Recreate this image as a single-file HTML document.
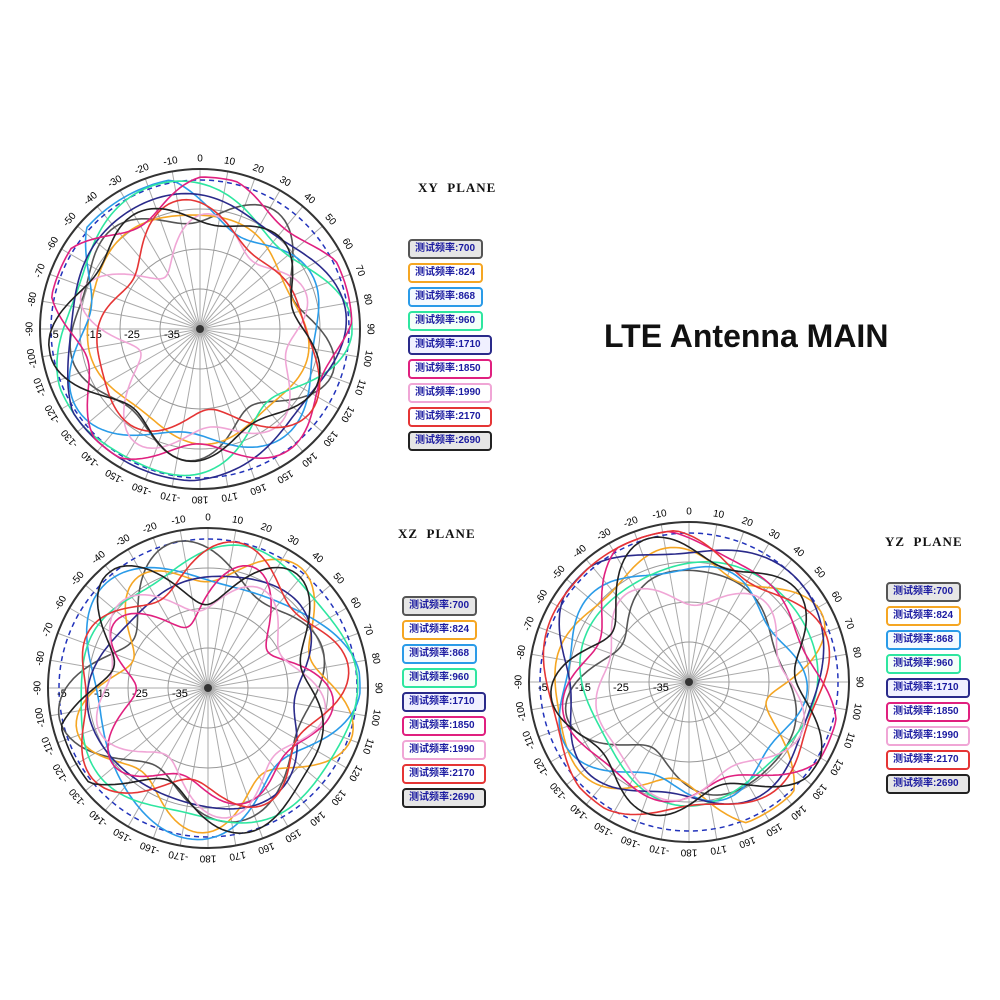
<!DOCTYPE html>
<html><head><meta charset="utf-8">
<style>
html,body{margin:0;padding:0;background:#fff;}
body{width:1000px;height:1000px;position:relative;overflow:hidden;font-family:"Liberation Sans","Noto Sans CJK SC",sans-serif;}
.title{position:absolute;left:604px;top:318px;font-size:32px;font-weight:bold;color:#111;}
.plane{position:absolute;font-family:"Liberation Serif",serif;font-weight:bold;font-size:13px;color:#111;letter-spacing:1px;}
.leg{position:absolute;}
.leg div{box-sizing:border-box;height:20px;margin-bottom:4px;border:2px solid;border-radius:4px;font-size:10px;font-weight:bold;color:#1a1aa0;line-height:16px;padding-left:5px;font-family:"Liberation Sans","Noto Sans CJK SC",sans-serif;}
svg{position:absolute;left:0;top:0;}
</style></head><body>
<svg id="s" width="1000" height="1000" viewBox="0 0 1000 1000"></svg>
<div class="title">LTE Antenna MAIN</div>
<div class="plane" style="left:418px;top:180px">XY&nbsp;&nbsp;PLANE</div>
<div class="plane" style="left:398px;top:526px">XZ&nbsp;&nbsp;PLANE</div>
<div class="plane" style="left:885px;top:534px">YZ&nbsp;&nbsp;PLANE</div>
<div class="leg" id="l1" style="left:408px;top:239px"></div>
<div class="leg" id="l2" style="left:402px;top:596px"></div>
<div class="leg" id="l3" style="left:886px;top:582px"></div>
<script>
var cols=["#555","#f5a623","#2a9be8","#2ee6a0","#2a2a8a","#e0207f","#f0a6d6","#e53535","#222"];
var bgs=["#e6e6e6","#fff","#f4faff","#f4fff9","#f0f0ff","#fff","#fff","#fff","#e6e6e6"];
var fr=["700","824","868","960","1710","1850","1990","2170","2690"];
["l1","l2","l3"].forEach(function(id){
 var e=document.getElementById(id),h="";
 for(var i=0;i<9;i++){var w=(fr[i].length>3)?84:75;h+='<div style="width:'+w+'px;border-color:'+cols[i]+';background:'+bgs[i]+'">测试频率:'+fr[i]+'</div>';}
 e.innerHTML=h;
});
var s=document.getElementById("s"),out="";
function plot(cx,cy,seed){
 var R=160;
 for(var a=0;a<360;a+=10){var t=a*Math.PI/180;out+='<line x1="'+cx+'" y1="'+cy+'" x2="'+(cx+R*Math.sin(t))+'" y2="'+(cy-R*Math.cos(t))+'" stroke="#aaa" stroke-width="1"/>';}
 [40,80,120].forEach(function(r){out+='<circle cx="'+cx+'" cy="'+cy+'" r="'+r+'" fill="none" stroke="#999" stroke-width="1"/>';});
 out+='<circle cx="'+cx+'" cy="'+cy+'" r="149" fill="none" stroke="#2233bb" stroke-width="1.5" stroke-dasharray="5,4"/>';
 out+='<circle cx="'+cx+'" cy="'+cy+'" r="'+R+'" fill="none" stroke="#333" stroke-width="2"/>';
 out+='<circle cx="'+cx+'" cy="'+cy+'" r="4" fill="#333"/>';
 for(var a=-170;a<=180;a+=10){var t=a*Math.PI/180,lr=170;var x=cx+lr*Math.sin(t),y=cy-lr*Math.cos(t);
  out+='<text x="'+x+'" y="'+y+'" font-size="10" font-family="Liberation Sans" text-anchor="middle" dominant-baseline="middle" transform="rotate('+(a)+' '+x+' '+y+')">'+a+'</text>';}
 [["-5",155],["-15",118],["-25",80],["-35",40]].forEach(function(p){out+='<text x="'+(cx-p[1]+4)+'" y="'+(cy+9)+'" font-size="11" font-family="Liberation Sans">'+p[0]+'</text>';});
 var rnd=seed;function rn(){rnd=(rnd*9301+49297)%233280;return rnd/233280;}
 for(var i=0;i<9;i++){
  var base=100+rn()*40,harm=[];for(var k=1;k<=5;k++)harm.push([ (k==1?10:(k>=3?rn()*22:rn()*10))*(rn()<0.5?1:0.5), rn()*6.28]);
  var d="";
  for(var j=0;j<=180;j++){var t=j*2*Math.PI/180,r=base;
   for(var k=0;k<5;k++)r+=harm[k][0]*Math.cos((k+1)*t+harm[k][1]);
   r=Math.max(25,Math.min(152,r));
   d+=(j?"L":"M")+(cx+r*Math.sin(t)).toFixed(1)+" "+(cy-r*Math.cos(t)).toFixed(1);}
  out+='<path d="'+d+'Z" fill="none" stroke="'+cols[i]+'" stroke-width="1.6"/>';
 }
}
plot(200,329,7);plot(208,688,31);plot(689,682,97);
s.innerHTML=out;
</script>
</body></html>
